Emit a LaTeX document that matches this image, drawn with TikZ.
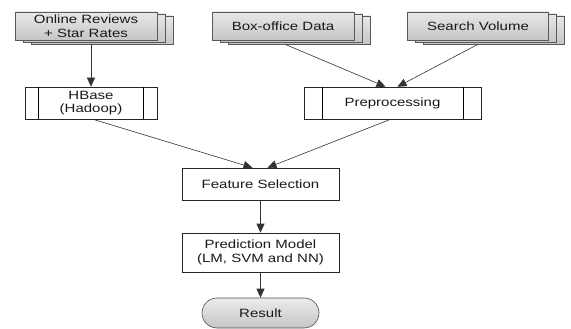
\documentclass[tikz,border=0pt]{standalone}
\usepackage{fontspec}
\setmainfont{Liberation Sans}[FakeStretch=1.25]
\usetikzlibrary{arrows.meta,shapes.misc}
\begin{document}
\begin{tikzpicture}[x=1pt,y=-1pt,
  every node/.style={font=\fontsize{12}{13.5}\selectfont, text=black!90, align=center, inner sep=0pt},
  doc/.style={draw=black!65, line width=0.6pt, top color=gray!18, bottom color=gray!45, rectangle},
  proc/.style={draw=black!85, line width=0.6pt, fill=white, rectangle},
  res/.style={draw=black!70, line width=0.6pt, top color=gray!15, bottom color=gray!45, rounded rectangle},
  arr/.style={draw=black!80, line width=0.6pt, -{Triangle[length=9pt,width=8pt]}}]
\useasboundingbox (0,0) rectangle (571,329);

% Online Reviews stack
\node[doc, minimum width=142pt, minimum height=28pt] (or3) at (102,30) {};
\node[doc, minimum width=142pt, minimum height=28pt] (or2) at (94,28) {};
\node[doc, minimum width=142pt, minimum height=28pt] (or) at (86,26) {Online Reviews\\+ Star Rates};
% Box-office stack
\node[doc, minimum width=142pt, minimum height=28pt] (bo3) at (299,30) {};
\node[doc, minimum width=142pt, minimum height=28pt] (bo2) at (291,28) {};
\node[doc, minimum width=142pt, minimum height=28pt] (bo) at (283,26) {Box-office Data};
% Search Volume stack
\node[doc, minimum width=141pt, minimum height=28pt] (sv3) at (494,30) {};
\node[doc, minimum width=141pt, minimum height=28pt] (sv2) at (486,28) {};
\node[doc, minimum width=141pt, minimum height=28pt] (sv) at (478,26) {Search Volume};

% HBase
\node[proc, minimum width=132pt, minimum height=32pt] (hb) at (91,103) {HBase\\(Hadoop)};
\draw[line width=0.6pt] ([xshift=14pt]hb.north west) -- ([xshift=14pt]hb.south west);
\draw[line width=0.6pt] ([xshift=-14pt]hb.north east) -- ([xshift=-14pt]hb.south east);
% Preprocessing
\node[proc, minimum width=177pt, minimum height=32pt] (pp) at (392.5,103) {Preprocessing};
\draw[line width=0.6pt] ([xshift=19pt]pp.north west) -- ([xshift=19pt]pp.south west);
\draw[line width=0.6pt] ([xshift=-18pt]pp.north east) -- ([xshift=-18pt]pp.south east);

% Feature Selection
\node[proc, minimum width=157pt, minimum height=32pt] (fs) at (260.5,184) {Feature Selection};
% Prediction Model
\node[proc, minimum width=157pt, minimum height=39pt] (pm) at (260.5,252.5) {Prediction Model\\(LM, SVM and NN)};
% Result
\node[res, minimum width=117pt, minimum height=30pt] (rs) at (260.5,313) {Result};

% connectors
\draw[arr] (hb.north |- or3.south) -- (hb.north);
\draw[arr] ([xshift=2pt,yshift=-4pt]bo.south) -- ([xshift=-7pt]pp.north);
\draw[arr] ([yshift=-4pt]sv.south) -- ([xshift=5pt]pp.north);
\draw[arr] ([xshift=2pt]hb.south) -- ([xshift=-8pt]fs.north);
\draw[arr] ([xshift=-2pt]pp.south) -- ([xshift=7pt]fs.north);
\draw[arr] (fs.south) -- (pm.north);
\draw[arr] (pm.south) -- (rs.north);
\end{tikzpicture}
\end{document}
